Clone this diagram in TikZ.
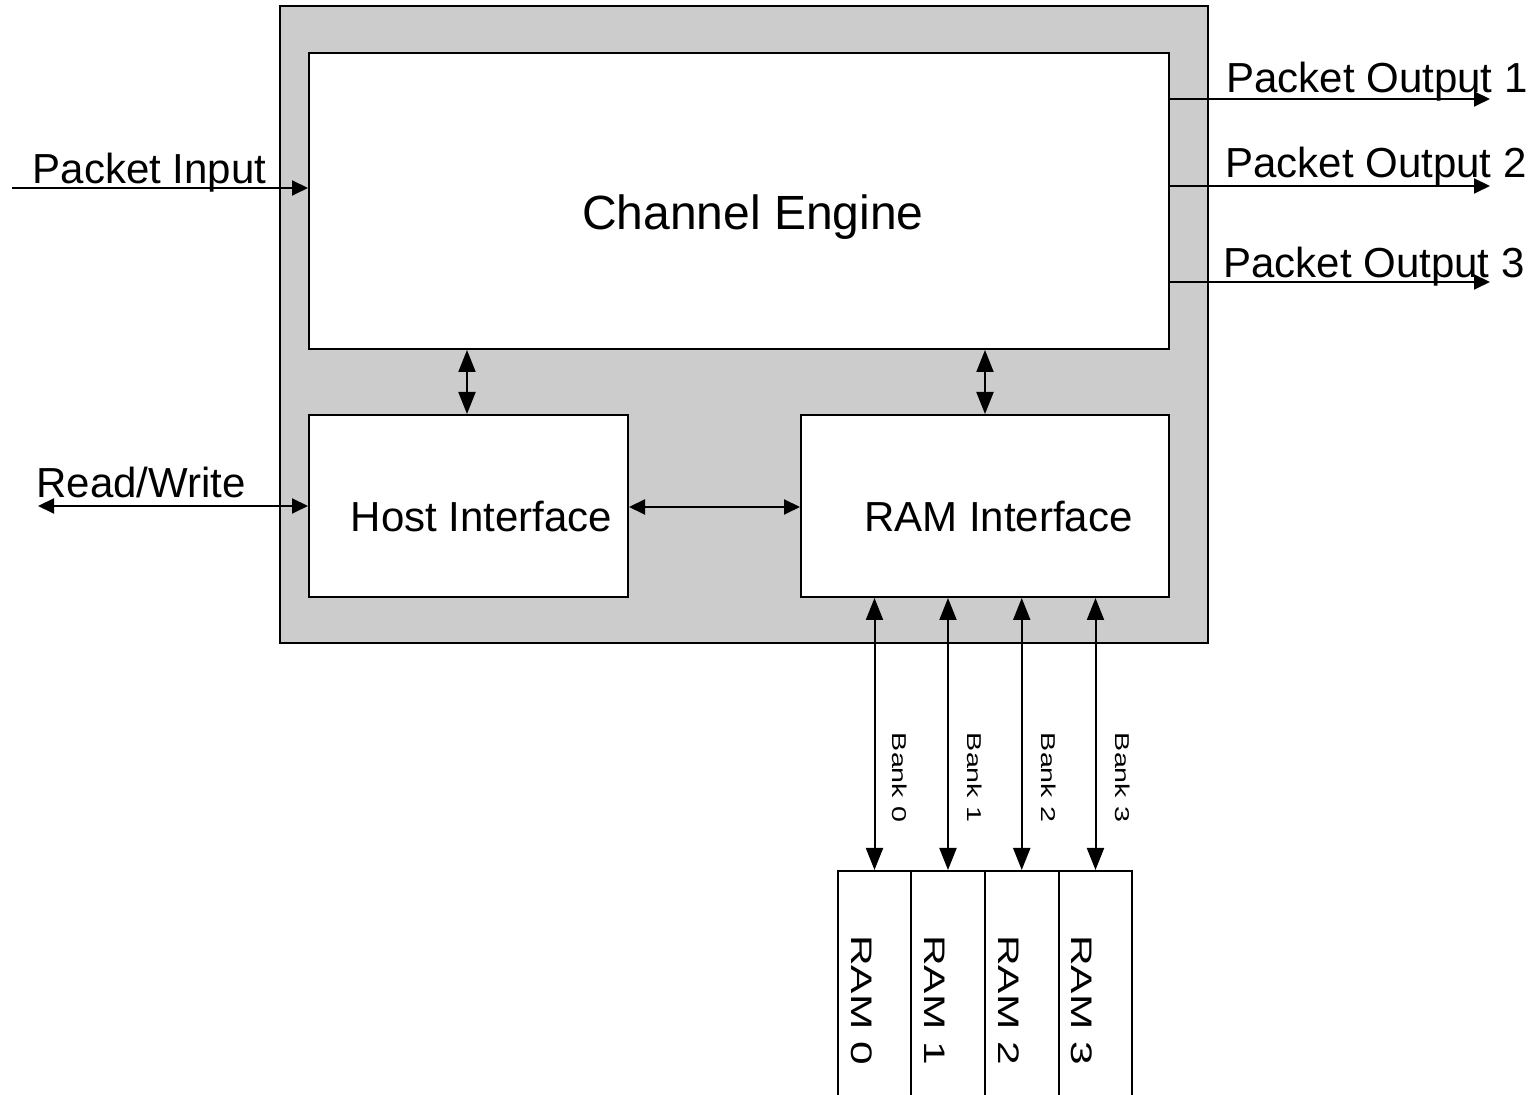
\documentclass[tikz,border=0pt]{standalone}
\usepackage{fontspec}
\setmainfont{Liberation Sans}
\usetikzlibrary{arrows.meta}
\definecolor{panelgray}{RGB}{204,204,204}
\begin{document}
\begin{tikzpicture}[x=0.5pt,y=-0.5pt,
  box/.style={draw=black,line width=1pt,fill=white,inner sep=0pt,rectangle},
  lbl/.style={inner sep=0pt,font=\fontsize{21}{25}\selectfont},
  celbl/.style={inner sep=0pt,font=\fontsize{24}{28}\selectfont},
  banklbl/.style={inner sep=0pt,font=\fontsize{14.3}{17}\selectfont,rotate=-90,yscale=0.7},
  ramlbl/.style={inner sep=0pt,font=\fontsize{21.2}{25}\selectfont,rotate=-90,yscale=0.7},
  bigarrow/.style={line width=1pt,{Triangle[length=11pt,width=8.5pt]}-{Triangle[length=11pt,width=8.5pt]}},
  smallarrow/.style={line width=1pt,-{Triangle[length=8pt,width=7.5pt]}},
  smalldouble/.style={line width=1pt,{Triangle[length=8pt,width=7.5pt]}-{Triangle[length=8pt,width=7.5pt]}}
]
\useasboundingbox (0,0) rectangle (1539,1095);
\clip (0,0) rectangle (1539,1095);

% chip outline
\node[box,fill=panelgray,minimum width=464pt,minimum height=318.5pt] (chip) at (744,324.5) {};
\node[box,minimum width=430pt,minimum height=148pt] (ce) at (739,201) {};
\node[box,minimum width=159.5pt,minimum height=91pt] (host) at (468.5,506) {};
\node[box,minimum width=184pt,minimum height=91pt] (ramif) at (985,506) {};

\node[celbl,anchor=base] (celabel) at (753,230) {Channel Engine};
\node[lbl,anchor=base] (hostlabel) at (481.5,532) {Host Interface};
\node[lbl,anchor=base] (ramiflabel) at (998.5,532) {RAM Interface};

% RAM banks
\node[box,minimum width=36.75pt,minimum height=120pt] (r0) at (874.5,991) {};
\node[box,minimum width=36.75pt,minimum height=120pt] (r1) at (948,991) {};
\node[box,minimum width=36.75pt,minimum height=120pt] (r2) at (1021.75,991) {};
\node[box,minimum width=36.75pt,minimum height=120pt] (r3) at (1095.5,991) {};

\node[ramlbl] (r0l) at (862,1000) {RAM 0};
\node[ramlbl] (r1l) at (935,1000) {RAM 1};
\node[ramlbl] (r2l) at (1008.5,1000) {RAM 2};
\node[ramlbl] (r3l) at (1082,1000) {RAM 3};

\node[banklbl] (b0) at (900,777.5) {Bank 0};
\node[banklbl] (b1) at (975,777.5) {Bank 1};
\node[banklbl] (b2) at (1049,777.5) {Bank 2};
\node[banklbl] (b3) at (1123,777.5) {Bank 3};

% external labels
\node[lbl,anchor=base] (pinlabel) at (149.5,184) {Packet Input};
\node[lbl,anchor=base] (rwlabel) at (141,498) {Read/Write};
\node[lbl,anchor=base] (o1label) at (1377,93) {Packet Output 1};
\node[lbl,anchor=base] (o2label) at (1376,178) {Packet Output 2};
\node[lbl,anchor=base] (o3label) at (1374,278) {Packet Output 3};

% free ends
\coordinate (pin) at (12,188);
\coordinate (rw) at (38,506);
\coordinate (o1) at (1490,99);
\coordinate (o2) at (1490,186);
\coordinate (o3) at (1490,282);
\coordinate (hx) at (467,0);
\coordinate (rx) at (985,0);
\coordinate (hy) at (0,507);

% connectors
\draw[smallarrow] (pin) -- (pin -| ce.west);
\draw[smalldouble] (rw) -- (rw -| host.west);
\draw[smallarrow] (ce.east |- o1) -- (o1);
\draw[smallarrow] (ce.east |- o2) -- (o2);
\draw[smallarrow] (ce.east |- o3) -- (o3);
\draw[bigarrow] (ce.south -| hx) -- (host.north -| hx);
\draw[bigarrow] (ce.south -| rx) -- (ramif.north -| rx);
\draw[smalldouble] (host.east |- hy) -- (ramif.west |- hy);
\draw[bigarrow] (ramif.south -| r0.north) -- (r0.north);
\draw[bigarrow] (ramif.south -| r1.north) -- (r1.north);
\draw[bigarrow] (ramif.south -| r2.north) -- (r2.north);
\draw[bigarrow] (ramif.south -| r3.north) -- (r3.north);
\end{tikzpicture}
\end{document}
